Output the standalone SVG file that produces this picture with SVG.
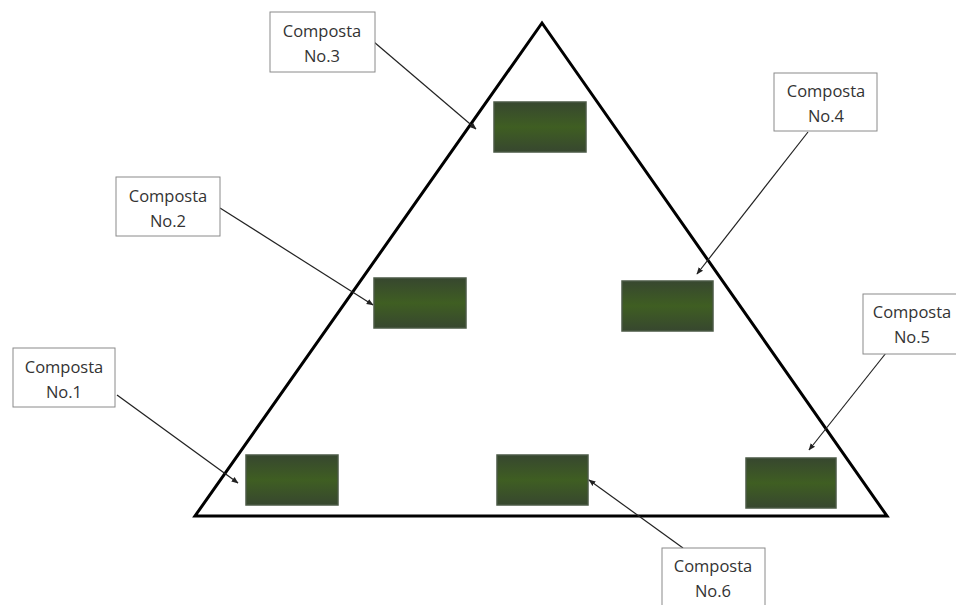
<svg xmlns="http://www.w3.org/2000/svg" width="956" height="605" viewBox="0 0 956 605">
<defs>
<marker id="ah" viewBox="0 0 10 10" refX="9" refY="5" markerWidth="7" markerHeight="7" orient="auto" markerUnits="userSpaceOnUse">
<path d="M0,1 L10,5 L0,9 z" fill="#222"/>
</marker>
<linearGradient id="g" x1="0" y1="0" x2="0" y2="1">
<stop offset="0" stop-color="#37472f"/>
<stop offset="0.5" stop-color="#3f5e22"/>
<stop offset="1" stop-color="#37472f"/>
</linearGradient>
<style>
.lbl rect{fill:#fff;stroke:#8a8a8a;stroke-width:1}
.lbl text{font-family:"Open Sans","Liberation Sans",sans-serif;font-size:16.5px;fill:#333;text-anchor:middle}
.bin{fill:url(#g);stroke:#4b5a45;stroke-width:1.5}
.con line{stroke:#222;stroke-width:1.2;marker-end:url(#ah)}
</style>
</defs>
<rect width="956" height="605" fill="#fff"/>
<polygon id="triangle" points="542,23 195,516 887,516" fill="none" stroke="#000" stroke-width="3" stroke-linejoin="miter"/>
<g id="bins">
<rect class="bin" x="246" y="455" width="92" height="50"/>
<rect class="bin" x="374" y="278" width="92" height="50"/>
<rect class="bin" x="494" y="102" width="92" height="50"/>
<rect class="bin" x="622" y="281" width="91" height="50"/>
<rect class="bin" x="746" y="458" width="90" height="50"/>
<rect class="bin" x="497" y="455" width="91" height="50"/>
</g>
<g id="connectors" class="con">
<line x1="117" y1="395" x2="238" y2="483"/>
<line x1="220" y1="208" x2="373" y2="305"/>
<line x1="374" y1="42" x2="476" y2="129"/>
<line x1="808" y1="132" x2="697" y2="274"/>
<line x1="886" y1="353" x2="809" y2="450"/>
<line x1="683" y1="548" x2="589" y2="480"/>
</g>
<g id="label1" class="lbl"><rect x="13" y="348" width="102" height="59"/><text x="64" y="373">Composta</text><text x="64" y="398">No.1</text></g>
<g id="label2" class="lbl"><rect x="116" y="177" width="104" height="59"/><text x="168" y="202">Composta</text><text x="168" y="227">No.2</text></g>
<g id="label3" class="lbl"><rect x="270" y="12" width="105" height="60"/><text x="322" y="37">Composta</text><text x="322" y="62">No.3</text></g>
<g id="label4" class="lbl"><rect x="774" y="73" width="103" height="58"/><text x="826" y="97">Composta</text><text x="826" y="122">No.4</text></g>
<g id="label5" class="lbl"><rect x="863" y="294" width="100" height="60"/><text x="912" y="318">Composta</text><text x="912" y="343">No.5</text></g>
<g id="label6" class="lbl"><rect x="662" y="548" width="103" height="60"/><text x="713" y="572">Composta</text><text x="713" y="597">No.6</text></g>
</svg>
